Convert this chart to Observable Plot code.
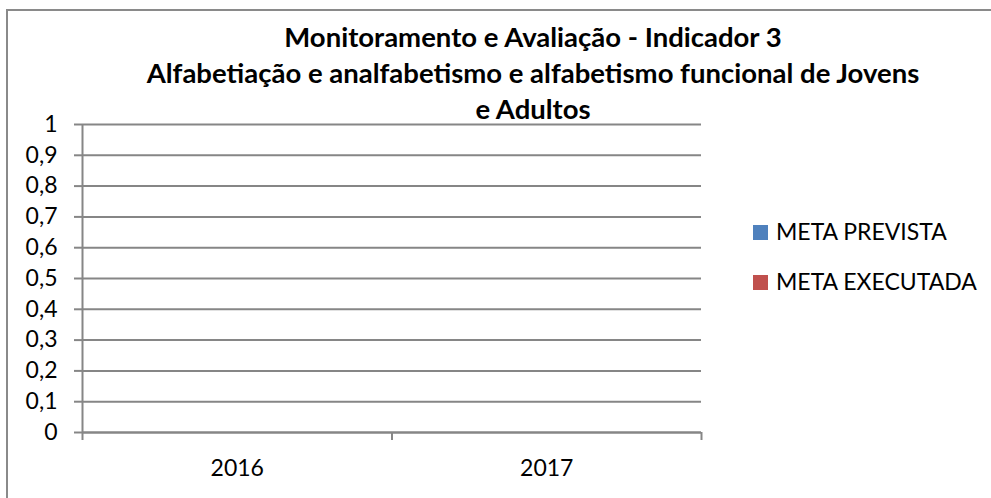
<!DOCTYPE html>
<html>
<head>
<meta charset="utf-8">
<script src="https://cdn.jsdelivr.net/npm/d3@7"></script>
<script src="https://cdn.jsdelivr.net/npm/@observablehq/plot@0.6"></script>
<style>
  html, body { margin: 0; padding: 0; background: #fff; }
  #wrap { position: relative; width: 991px; height: 498px; overflow: hidden; font-family: Lato, "Open Sans", sans-serif; color: #000; }
  #frame { position: absolute; left: 6px; top: 9px; right: -4px; bottom: -4px; border-left: 2px solid #8a8a8a; border-top: 2px solid #8a8a8a; }
  #title { position: absolute; left: 0; top: 19.4px; width: 1066px; text-align: center; font-weight: bold; font-size: 27.5px; line-height: 36px; white-space: nowrap; }
  #chart { position: absolute; left: 0; top: 0; }
  .leg { position: absolute; font-size: 23px; line-height: 23px; white-space: nowrap; }
  .sw { position: absolute; width: 15px; height: 15px; }
</style>
</head>
<body>
<div id="wrap">
  <div id="frame"></div>
  <div id="chart"></div>
  <div id="title"></div>
  <div id="legend"></div>
</div>
<script>
// ---- data ----
const titleLines = [
  "Monitoramento e Avaliação - Indicador 3",
  "Alfabetiação e analfabetismo e alfabetismo funcional de Jovens",
  "e Adultos"
];
const categories = ["2016", "2017"];
const seriesNames = ["META PREVISTA", "META EXECUTADA"];
const metaPrevista = [0, 0];
const metaExecutada = [0, 0];
const seriesColors = ["#4F81BD", "#C0504D"];
const yTicks = [0, 0.1, 0.2, 0.3, 0.4, 0.5, 0.6, 0.7, 0.8, 0.9, 1];

// ---- build table ----
const seriesValues = [metaPrevista, metaExecutada];
const rows = [];
categories.forEach((c, i) => {
  seriesNames.forEach((s, j) => {
    rows.push({cat: c, idx: i, series: s, sIdx: j, value: seriesValues[j][i]});
  });
});
const n = categories.length;
const grid = "#868686";
const fmt = d => String(+d.toFixed(1)).replace(".", ",");

const chart = Plot.plot({
  width: 991,
  height: 498,
  marginLeft: 82,
  marginRight: 290,
  marginTop: 124,
  marginBottom: 66,
  style: {fontFamily: "Lato, 'Open Sans', sans-serif", fontSize: "23px", color: "#000", background: "transparent", overflow: "visible"},
  x: {type: "linear", domain: [0, n], axis: null, label: null},
  y: {domain: [0, 1], axis: null, label: null},
  color: {domain: seriesNames, range: seriesColors},
  marks: [
    Plot.ruleY(yTicks, {x1: 0, x2: n, stroke: grid, strokeWidth: 2}),
    Plot.rectY(rows, {
      x1: d => d.idx + 0.2 + d.sIdx * 0.3,
      x2: d => d.idx + 0.5 + d.sIdx * 0.3,
      y1: 0, y2: "value", fill: "series"
    }),
    Plot.axisY(yTicks, {label: null, tickSize: 8, tickPadding: 17, tickFormat: fmt, stroke: grid, strokeWidth: 2, fill: "#000"}),
    Plot.axisX(d3.range(n + 1), {label: null, tickSize: 8, tickFormat: () => "", stroke: grid, strokeWidth: 2}),
    Plot.axisX(d3.range(n).map(i => i + 0.5), {label: null, tickSize: 0, tickPadding: 27, tickFormat: d => categories[Math.floor(d)], fill: "#000"}),
    Plot.ruleX([0], {y1: 0, y2: 1, stroke: grid, strokeWidth: 2}),
    Plot.ruleY([0], {x1: 0, x2: n, stroke: grid, strokeWidth: 2})
  ]
});
document.getElementById("chart").appendChild(chart);

// title
document.getElementById("title").innerHTML = titleLines.join("<br>");

// legend
const leg = document.getElementById("legend");
seriesNames.forEach((s, j) => {
  const sw = document.createElement("div");
  sw.className = "sw";
  sw.style.left = "753px";
  sw.style.top = (225 + j * 50) + "px";
  sw.style.background = seriesColors[j];
  leg.appendChild(sw);
  const t = document.createElement("div");
  t.className = "leg";
  t.style.left = "776px";
  t.style.top = (219.6 + j * 50) + "px";
  t.textContent = s;
  leg.appendChild(t);
});
</script>
</body>
</html>
